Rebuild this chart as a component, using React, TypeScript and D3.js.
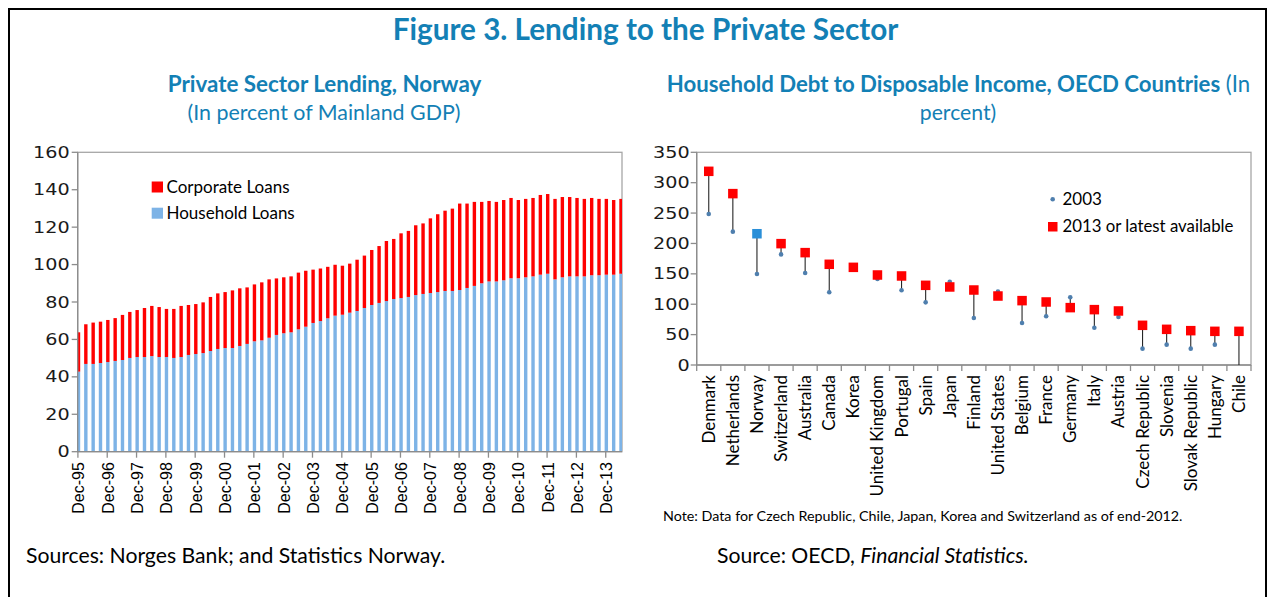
import React from 'react';
import * as d3 from 'd3';

// ---------- data ----------
const yearTickLabels = ['Dec-95','Dec-96','Dec-97','Dec-98','Dec-99','Dec-00','Dec-01','Dec-02','Dec-03','Dec-04','Dec-05','Dec-06','Dec-07','Dec-08','Dec-09','Dec-10','Dec-11','Dec-12','Dec-13'];

const householdLoans = [42.8,46.9,46.9,47.4,47.9,48.5,49.0,50.1,50.6,50.6,51.1,50.6,50.6,50.1,50.6,51.7,52.2,52.7,53.8,54.9,55.4,55.4,56.5,57.6,59.0,59.5,60.9,62.4,63.3,63.8,65.4,66.8,68.8,69.8,71.3,72.7,73.2,74.3,75.2,76.8,78.4,79.5,80.5,81.6,82.1,82.7,83.7,84.3,84.8,85.3,85.9,85.9,86.4,87.5,88.6,90.0,91.0,91.0,91.6,92.7,92.7,93.2,93.7,94.6,95.1,92.1,93.2,93.7,93.7,93.7,94.3,94.3,94.6,94.6,95.1];
const corporateLoans = [21.0,21.2,22.1,22.1,22.5,22.9,24.1,24.6,25.1,26.2,26.8,26.7,25.7,26.2,27.3,26.7,26.7,27.1,28.9,29.7,29.9,30.8,30.8,30.2,30.4,31.0,31.2,30.2,29.9,29.9,30.3,29.9,28.5,28.1,27.5,27.2,26.2,26.2,27.4,28.0,29.4,30.4,32.1,32.1,34.6,35.3,37.3,37.7,39.9,41.6,42.9,44.0,46.2,45.1,44.9,43.5,43.0,42.5,42.9,42.9,41.8,41.9,41.9,42.6,42.6,43.0,42.9,42.4,41.9,41.4,41.3,40.8,40.5,39.9,40.0];
const leftYTicks = [0,20,40,60,80,100,120,140,160];

const countries = ['Denmark','Netherlands','Norway','Switzerland','Australia','Canada','Korea','United Kingdom','Portugal','Spain','Japan','Finland','United States','Belgium','France','Germany','Italy','Austria','Czech Republic','Slovenia','Slovak Republic','Hungary','Chile'];
const debt2003 = [248.5,219.4,149.8,182.0,151.4,119.6,160.0,141.5,122.9,103.1,137.1,77.3,120.7,69.1,80.1,111.4,61.4,79.0,26.9,33.5,26.9,33.5,0];
const debtLatest = [318.7,282.0,216.0,199.7,184.9,165.7,160.7,148.1,146.5,131.1,128.4,123.4,113.5,105.9,103.7,94.4,91.1,88.9,65.3,58.7,56.5,55.4,55.4];
const highlighted = ['Norway'];
const rightYTicks = [0,50,100,150,200,250,300,350];

// ---------- style ----------
const TEAL = '#1380b5';
const RED = '#ff0000';
const BLUE = '#7db3e6';
const AXIS = '#8c8c8c';
const BORDER = '#a6a6a6';
const FONT = 'Lato, "Open Sans", sans-serif';
const NUMFONT = '"DejaVu Sans", sans-serif';
const DATEFONT = '"Liberation Sans", Arial, sans-serif';

export default function App() {
  // left chart geometry
  const L = { x0: 77.7, x1: 622, y0: 451.7, y1: 152.3 };
  const lx = d3.scaleLinear().domain([0, householdLoans.length - 1]).range([78.5, 621]);
  const ly = d3.scaleLinear().domain([0, 160]).range([L.y0, L.y1]);
  const barW = 3.4;

  // right chart geometry
  const R = { x0: 696.7, x1: 1251, y0: 365, y1: 152.3 };
  const rx = d3.scaleBand().domain(countries).range([R.x0, R.x1]);
  const ry = d3.scaleLinear().domain([0, 350]).range([R.y0, R.y1]);
  const bw = rx.bandwidth();
  const sq = 9.5;

  return (
    <svg width={1268} height={597} style={{ position: 'absolute', left: 0, top: 0, background: '#fff' }}>
      <defs>
        <clipPath id="lclip">
          <rect x={L.x0} y={L.y1} width={L.x1 - L.x0} height={L.y0 - L.y1} />
        </clipPath>
      </defs>
      <rect x={0} y={0} width={1268} height={597} fill="#fff" />
      {/* outer frame */}
      <rect x={9} y={9} width={1257} height={620} fill="none" stroke="#000" strokeWidth={2} />

      {/* titles */}
      <text x={645.5} y={40} textAnchor="middle" fontFamily={FONT} fontWeight="bold" fontSize={29.7} fill={TEAL}>
        Figure 3. Lending to the Private Sector
      </text>
      <text x={324.5} y={92} textAnchor="middle" fontFamily={FONT} fontWeight="bold" fontSize={22.4} fill={TEAL}>
        Private Sector Lending, Norway
      </text>
      <text x={324} y={119.5} textAnchor="middle" fontFamily={FONT} fontSize={21.4} fill={TEAL}>
        (In percent of Mainland GDP)
      </text>
      <text x={958.5} y={92} textAnchor="middle" fontFamily={FONT} fontSize={22.2} fill={TEAL}>
        <tspan fontWeight="bold">Household Debt to Disposable Income, OECD Countries</tspan>
        <tspan> (In</tspan>
      </text>
      <text x={958} y={119.5} textAnchor="middle" fontFamily={FONT} fontSize={21.2} fill={TEAL}>
        percent)
      </text>

      {/* ===== left chart ===== */}
      <rect x={L.x0} y={L.y1} width={L.x1 - L.x0} height={L.y0 - L.y1} fill="none" stroke={BORDER} strokeWidth={1.3} />
      <g clipPath="url(#lclip)">
        {householdLoans.map((h, i) => (
          <g key={i}>
            <rect x={lx(i) - barW / 2} y={ly(h)} width={barW} height={ly(0) - ly(h)} fill={BLUE} />
            <rect x={lx(i) - barW / 2} y={ly(h + corporateLoans[i])} width={barW} height={ly(h) - ly(h + corporateLoans[i])} fill={RED} />
          </g>
        ))}
      </g>
      <line x1={L.x0} x2={L.x0} y1={L.y1} y2={L.y0} stroke={AXIS} strokeWidth={1.3} />
      <line x1={L.x0} x2={L.x1} y1={L.y0} y2={L.y0} stroke={AXIS} strokeWidth={1.3} />
      {leftYTicks.map((t) => (
        <g key={t}>
          <line x1={L.x0 - 6} x2={L.x0} y1={ly(t)} y2={ly(t)} stroke={AXIS} strokeWidth={1.3} />
          <g transform={`translate(${L.x0 - 8},${ly(t) + 5.5}) scale(1.2,1)`}>
            <text x={0} y={0} textAnchor="end" fontFamily={NUMFONT} fontSize={16} fill="#1a1a1a">{t}</text>
          </g>
        </g>
      ))}
      {yearTickLabels.map((lab, k) => {
        const x = lx(k * 4) - 0.6;
        return (
          <g key={lab}>
            <line x1={x} x2={x} y1={L.y0} y2={L.y0 + 6} stroke={AXIS} strokeWidth={1.3} />
            <text transform={`translate(${x + 6.5},${L.y0 + 10.5}) rotate(-90)`} textAnchor="end" fontFamily={DATEFONT} fontSize={16} fill="#000">{lab}</text>
          </g>
        );
      })}
      {/* left legend */}
      <rect x={151.7} y={181.5} width={11.3} height={11} fill={RED} />
      <text x={166.5} y={192.5} fontFamily={FONT} fontSize={17} fill="#000">Corporate Loans</text>
      <rect x={151.7} y={207.7} width={11.3} height={11} fill={BLUE} />
      <text x={166.5} y={219} fontFamily={FONT} fontSize={17} fill="#000">Household Loans</text>

      {/* ===== right chart ===== */}
      <rect x={R.x0} y={R.y1} width={R.x1 - R.x0} height={R.y0 - R.y1} fill="none" stroke={BORDER} strokeWidth={1.3} />
      <line x1={R.x0} x2={R.x0} y1={R.y1} y2={R.y0} stroke={AXIS} strokeWidth={1.3} />
      <line x1={R.x0} x2={R.x1} y1={R.y0} y2={R.y0} stroke={AXIS} strokeWidth={1.3} />
      {rightYTicks.map((t) => (
        <g key={t}>
          <line x1={R.x0 - 6} x2={R.x0} y1={ry(t)} y2={ry(t)} stroke={AXIS} strokeWidth={1.3} />
          <g transform={`translate(${R.x0 - 7},${ry(t) + 5.5}) scale(1.2,1)`}>
            <text x={0} y={0} textAnchor="end" fontFamily={NUMFONT} fontSize={16} fill="#1a1a1a">{t}</text>
          </g>
        </g>
      ))}
      {countries.map((c) => (
        <line key={'t' + c} x1={(rx(c) as number)} x2={(rx(c) as number)} y1={R.y0} y2={R.y0 + 6} stroke={AXIS} strokeWidth={1.3} />
      ))}
      <line x1={R.x1} x2={R.x1} y1={R.y0} y2={R.y0 + 6} stroke={AXIS} strokeWidth={1.3} />
      {countries.map((c) => {
        const cx = (rx(c) as number) + bw / 2;
        return (
          <text key={'l' + c} transform={`translate(${cx + 6},${R.y0 + 10}) rotate(-90)`} textAnchor="end" fontFamily={FONT} fontSize={17} fill="#000">{c}</text>
        );
      })}
      {countries.map((c, i) => {
        const cx = (rx(c) as number) + bw / 2;
        return (
          <line key={'s' + c} x1={cx} x2={cx} y1={ry(debt2003[i])} y2={ry(debtLatest[i])} stroke="#262626" strokeWidth={1.1} />
        );
      })}
      {countries.map((c, i) => {
        const cx = (rx(c) as number) + bw / 2;
        return debt2003[i] > 0 ? (
          <circle key={'d' + c} cx={cx} cy={ry(debt2003[i])} r={2.3} fill="#4f7fae" />
        ) : null;
      })}
      {countries.map((c, i) => {
        const cx = (rx(c) as number) + bw / 2;
        const isH = highlighted.includes(c);
        return (
          <rect key={'q' + c} x={cx - sq / 2} y={ry(debtLatest[i]) - sq / 2} width={sq} height={sq} fill={isH ? '#2a8fd8' : RED} />
        );
      })}
      {/* right legend */}
      <circle cx={1052.7} cy={199.3} r={2.3} fill="#4f7fae" />
      <text x={1062.5} y={205} fontFamily={FONT} fontSize={17} fill="#000">2003</text>
      <rect x={1048} y={222} width={9.5} height={9.5} fill={RED} />
      <text x={1062.5} y={231.7} fontFamily={FONT} fontSize={16.8} fill="#000">2013 or latest available</text>

      {/* notes & sources */}
      <text x={663} y={521} fontFamily={FONT} fontSize={14.3} fill="#000">
        Note: Data for Czech Republic, Chile, Japan, Korea and Switzerland as of end-2012.
      </text>
      <text x={26} y={563} fontFamily={FONT} fontSize={21.2} fill="#000">
        Sources: Norges Bank; and Statistics Norway.
      </text>
      <text x={717} y={563} fontFamily={FONT} fontSize={21.2} fill="#000">
        <tspan>Source: OECD, </tspan>
        <tspan fontStyle="italic">Financial Statistics.</tspan>
      </text>
    </svg>
  );
}
